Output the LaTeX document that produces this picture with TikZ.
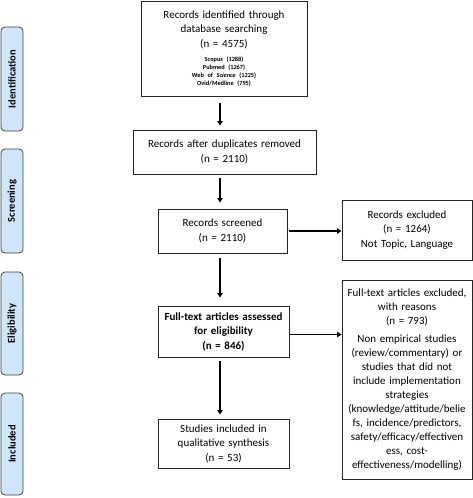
\documentclass[tikz,border=0pt]{standalone}
\usepackage{fontspec}
\setmainfont{Carlito}
\usetikzlibrary{arrows.meta}
\definecolor{sideblue}{HTML}{CFE6FA}
\begin{document}
\begin{tikzpicture}[x=1pt,y=-1pt,
  pbox/.style={draw=black!85, line width=0.9pt, align=center, inner sep=0pt,
    font=\fontsize{11}{14.5}\selectfont},
  sidebox/.style={draw=black!75, line width=0.8pt, rounded corners=4pt, fill=sideblue,
    inner sep=0pt, minimum height=22pt, rotate=90,
    font=\fontsize{10.5}{12}\selectfont\bfseries},
  arr/.style={line width=1.6pt, -{Triangle[width=5.5pt,length=4.5pt]},
    shorten <=4pt, shorten >=5pt}]
\useasboundingbox (0,0) rectangle (473,498);
% side labels
\node[sidebox, minimum width=104pt] (sid) at (12,79) {Identification};
\node[sidebox, minimum width=104pt] (ssc) at (12,201) {Screening};
\node[sidebox, minimum width=103pt] (sel) at (12,323.5) {Eligibility};
\node[sidebox, minimum width=102pt] (sin) at (12,444) {Included};
% main boxes
\node[pbox, minimum width=166pt, minimum height=95pt, text width=160pt] (b1) at (224,48.5)
  {Records identified through\\database searching\\(n = 4575)\par\vspace{6pt}
   \fontsize{6.3}{8}\selectfont\bfseries Scopus (1288)\\Pubmed (1267)\\Web of \textit{Science} (1225)\\Ovid/Medline (795)\par};
\node[pbox, minimum width=183pt, minimum height=44pt, text width=180pt] (b2) at (224.5,152)
  {Records after duplicates removed\\(n = 2110)};
\node[pbox, minimum width=129pt, minimum height=44pt, text width=125pt] (b3) at (222.5,231)
  {Records screened\\(n = 2110)};
\node[pbox, minimum width=131pt, minimum height=51pt, text width=127pt, font=\fontsize{11}{14.5}\selectfont\bfseries] (b4) at (223.5,331.5)
  {Full-text articles assessed\\for eligibility\\(n = 846)};
\node[pbox, minimum width=131pt, minimum height=49pt, text width=127pt] (b5) at (223.5,443.5)
  {Studies included in\\qualitative synthesis\\(n = 53)};
\node[pbox, minimum width=130pt, minimum height=60pt, text width=127pt] (e1) at (407,230)
  {Records excluded\\(n = 1264)\\Not Topic, Language};
\node[pbox, minimum width=130pt, minimum height=199pt, text width=128pt, font=\fontsize{11}{14}\selectfont] (e2) at (407,379.5)
  {Full-text articles excluded,\\with reasons\\(n = 793)\par\vspace{4pt}
   Non empirical studies\\(review/commentary) or\\studies that did not\\include implementation\\strategies\\(knowledge/attitude/belie\\fs, incidence/predictors,\\safety/efficacy/effectiven\\ess, cost-\\effectiveness/modelling)\par};
% connectors
\coordinate (ax) at (220,0);
\draw[arr, shorten <=7pt, shorten >=4pt] (b1.south -| ax) -- (b2.north -| ax);
\draw[arr, shorten <=4pt, shorten >=6pt] (b2.south -| ax) -- (b3.north -| ax);
\draw[arr, shorten <=5pt, shorten >=8pt] (b3.south -| ax) -- (b4.north -| ax);
\draw[arr, shorten <=4pt, shorten >=4pt] (b4.south -| ax) -- (b5.north -| ax);
\draw[arr, shorten <=2pt, shorten >=0pt] (b3.east) -- (b3.east -| e1.west);
\draw[arr, shorten <=0pt, shorten >=0pt] ([yshift=-3pt]b4.east) -- ([yshift=-3pt]b4.east -| e2.west);
\end{tikzpicture}
\end{document}
